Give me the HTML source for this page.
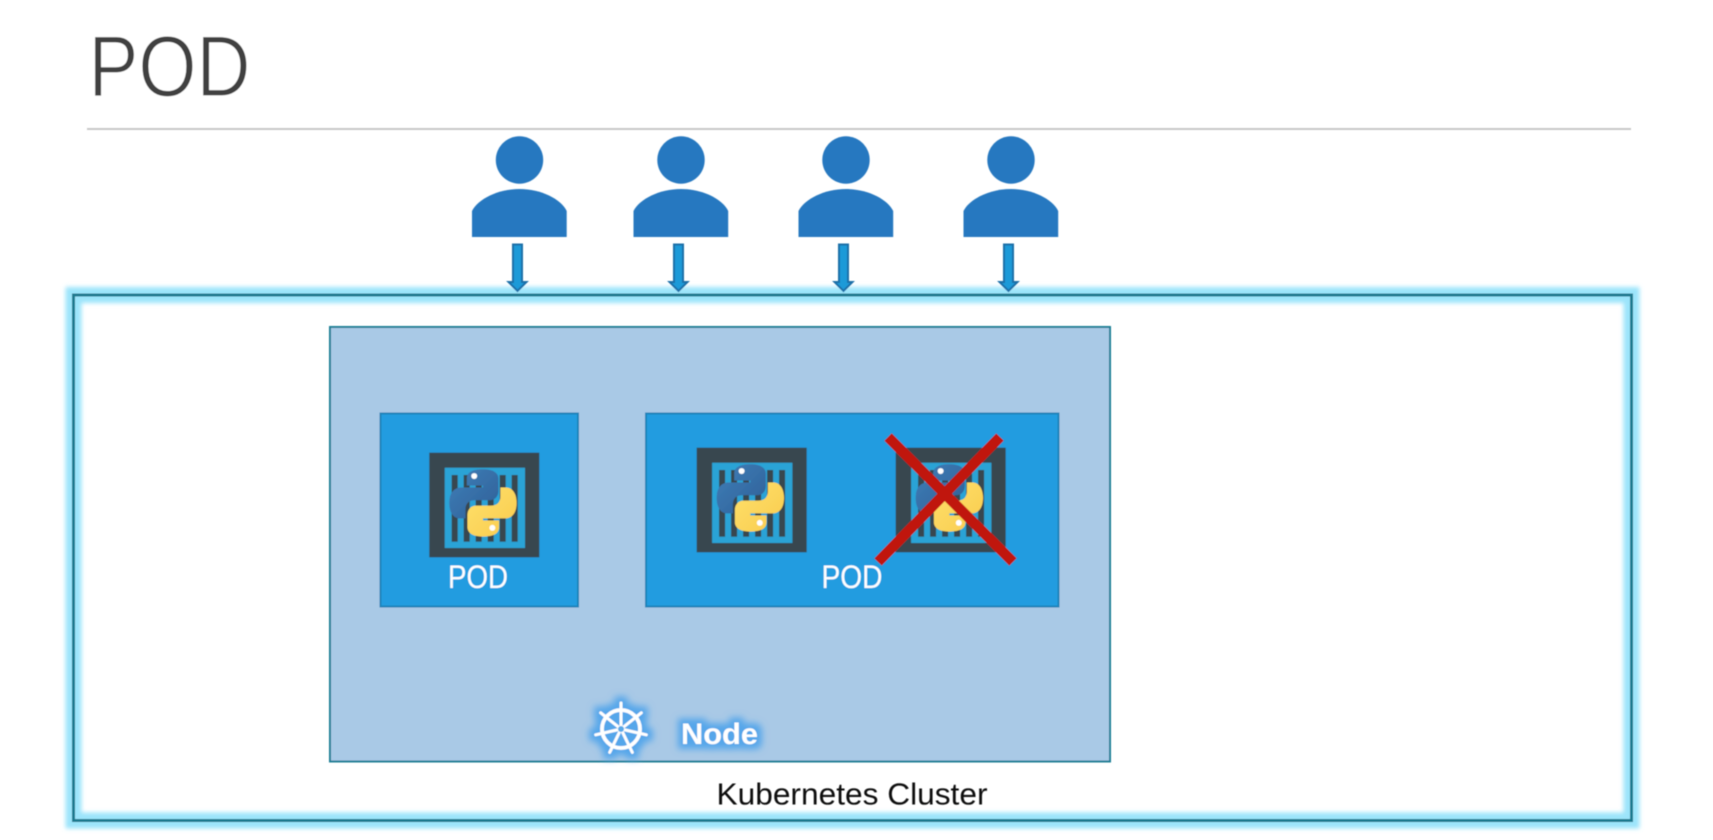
<!DOCTYPE html>
<html><head><meta charset="utf-8"><title>POD</title>
<style>html,body{margin:0;padding:0;background:#fff}svg{display:block}text{font-family:"Liberation Sans",sans-serif}</style>
</head><body>
<svg width="1713" height="840" viewBox="0 0 1713 840" xmlns="http://www.w3.org/2000/svg">
<defs>
<filter id="b3" x="-5%" y="-5%" width="110%" height="110%"><feGaussianBlur stdDeviation="2.2"/></filter>
<filter id="s" x="-5%" y="-5%" width="110%" height="110%"><feGaussianBlur stdDeviation="0.6"/></filter>
<filter id="glow" x="-40%" y="-40%" width="180%" height="180%">
<feMorphology in="SourceAlpha" operator="dilate" radius="5" result="d"/>
<feGaussianBlur in="d" stdDeviation="3.5" result="g"/>
<feFlood flood-color="#55a6ea"/><feComposite in2="g" operator="in" result="c"/>
<feMerge><feMergeNode in="c"/><feMergeNode in="SourceGraphic"/></feMerge>
</filter>
<linearGradient id="pb" x1="0" y1="0" x2="1" y2="1"><stop offset="0" stop-color="#3f7fb8"/><stop offset="1" stop-color="#2f5f97"/></linearGradient>
<linearGradient id="py" x1="0" y1="0" x2="1" y2="1"><stop offset="0" stop-color="#ffe16b"/><stop offset="1" stop-color="#f9cb4e"/></linearGradient>
<g id="person">
<circle cx="519.5" cy="160" r="23.7" fill="#2878c0"/>
<path d="M472 237V211C478 199 498 189 519.5 189C541 189 561 199 566.7 211V237Z" fill="#2878c0"/>
</g>
<g id="arrow">
<path d="M512.5 244.5H521.5V282H526L517 291L508 282H512.5Z" fill="#1d9ad8" stroke="#1b6fa8" stroke-width="2"/>
</g>
<g id="container">
<rect x="0" y="0" width="110" height="104.6" fill="#37474f"/>
<rect x="15.4" y="15" width="80.3" height="80.3" fill="#2ba3d6"/>
<g fill="#37474f">
<rect x="22.4" y="22.3" width="6" height="66.7"/><rect x="34.4" y="22.3" width="6" height="66.7"/><rect x="46.4" y="22.3" width="6" height="66.7"/><rect x="58.4" y="22.3" width="6" height="66.7"/><rect x="70.4" y="22.3" width="6" height="66.7"/><rect x="82.4" y="22.3" width="6" height="66.7"/>
</g>
<g transform="translate(20 16.6) scale(.673)">
<path d="M50 0C32 0 26 6 26 14V24H50V27H18C6 27 0 36 0 50C0 64 6 73 16 73H24V60C24 50 30 46 38 46H60C68 46 73 40 73 32V14C73 6 66 0 50 0Z" fill="url(#pb)"/>
<path d="M50 100C68 100 74 94 74 86V76H50V73H82C94 73 100 64 100 50C100 36 94 27 84 27H76V40C76 50 70 54 62 54H40C32 54 27 60 27 68V86C27 94 34 100 50 100Z" fill="url(#py)"/>
<circle cx="37" cy="10" r="4.4" fill="#fff"/><circle cx="64" cy="87" r="4.4" fill="#fff"/>
</g>
</g>
</defs>
<rect width="1713" height="840" fill="#fff"/>
<g filter="url(#s)">
<text x="88.5" y="96" font-size="86" textLength="162" lengthAdjust="spacingAndGlyphs" fill="#404040" stroke="#fff" stroke-width="1.2">POD</text>
<rect x="87" y="128" width="1544" height="2" fill="#c8c8c8"/>
<use href="#person"/><use href="#person" x="161.5"/><use href="#person" x="326.5"/><use href="#person" x="491.5"/>
<rect x="73.5" y="295" width="1558" height="525.5" fill="none" stroke="#9be4fb" stroke-width="16" filter="url(#b3)"/>
<rect x="73.5" y="295" width="1558" height="525.5" fill="none" stroke="#1f7a8f" stroke-width="3"/>
<use href="#arrow" x="0.5"/><use href="#arrow" x="161.5"/><use href="#arrow" x="326.5"/><use href="#arrow" x="491.5"/>
<rect x="330" y="327" width="780" height="434.5" fill="#a9c9e6" stroke="#1f7f96" stroke-width="2"/>
<rect x="380.5" y="413.5" width="197.5" height="193" fill="#229ce0" stroke="#1b84b9" stroke-width="2"/>
<rect x="646" y="413.5" width="412.5" height="193" fill="#229ce0" stroke="#1b84b9" stroke-width="2"/>
<use href="#container" x="429.3" y="452.7"/>
<use href="#container" x="696.7" y="447.7"/>
<use href="#container" x="895.7" y="447.7"/>
<g stroke="#c0140c" stroke-width="10.5"><line x1="888" y1="437" x2="1013" y2="562"/><line x1="1000" y1="437" x2="878" y2="562"/></g>
<text x="448" y="588" font-size="32" textLength="60" lengthAdjust="spacingAndGlyphs" fill="#fff">POD</text>
<text x="821.5" y="588" font-size="32" textLength="61" lengthAdjust="spacingAndGlyphs" fill="#fff">POD</text>
<g filter="url(#glow)">
<g fill="none" stroke="#fff" stroke-linecap="round">
<circle cx="621" cy="729" r="19" stroke-width="3.8"/>
<g stroke-width="3" transform="translate(621 729)">
<line x1="0" y1="0" x2="0" y2="-26"/><line x1="0" y1="0" x2="20.3" y2="-16.2"/><line x1="0" y1="0" x2="25.3" y2="5.8"/><line x1="0" y1="0" x2="11.3" y2="23.4"/><line x1="0" y1="0" x2="-11.3" y2="23.4"/><line x1="0" y1="0" x2="-25.3" y2="5.8"/><line x1="0" y1="0" x2="-20.3" y2="-16.2"/>
</g>
</g>
<text x="681" y="744" font-size="30" font-weight="700" textLength="77" lengthAdjust="spacingAndGlyphs" fill="#fff">Node</text>
</g>
<circle cx="621" cy="729" r="3" fill="#5aa9e8"/>
<text x="716.5" y="804.5" font-size="31" textLength="271" lengthAdjust="spacingAndGlyphs" fill="#111">Kubernetes Cluster</text>
</g>
</svg>
</body></html>
